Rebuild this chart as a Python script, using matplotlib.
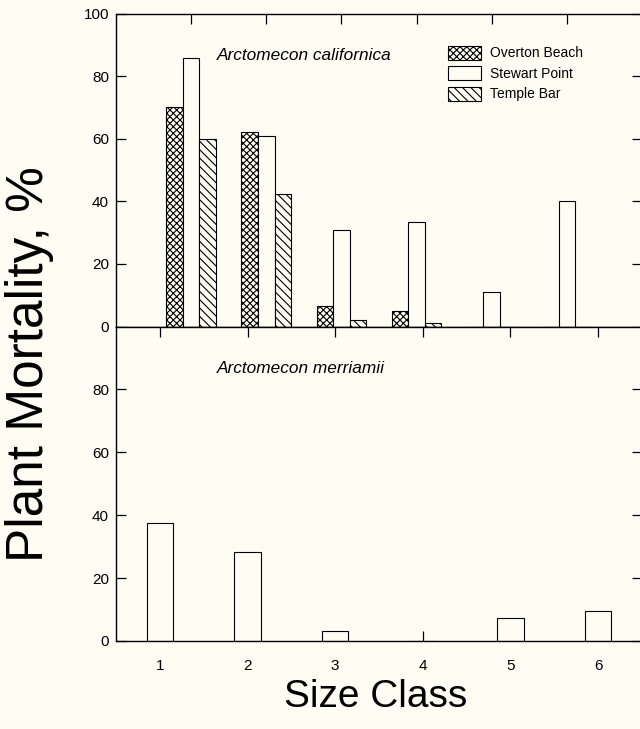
import numpy as np
import matplotlib.pyplot as plt

# mortality (%) by size class
size_class = [1, 2, 3, 4, 5, 6]
overton_beach = [70.0, 62.2, 6.4, 4.9, 0.0, 0.0]
stewart_point = [85.8, 60.9, 30.7, 33.4, 11.0, 40.1]
temple_bar = [60.0, 42.4, 2.1, 1.2, 0.0, 0.0]
merriamii = [37.6, 28.3, 3.1, 0.0, 7.2, 9.6]

bg = '#fdfdf4'
plt.rcParams['font.family'] = ['Liberation Sans', 'DejaVu Sans']
plt.rcParams['hatch.linewidth'] = 0.8

W, H = 640, 729
fig = plt.figure(figsize=(W / 100, H / 100), dpi=100, facecolor=bg)


def box(l, t, r, b):
    return [l / W, 1 - b / H, (r - l) / W, (b - t) / H]


ax1 = fig.add_axes(box(116, 13.5, 642, 326.5))
ax2 = fig.add_axes(box(116, 326.5, 642, 641))

x = np.array(size_class)
w = 0.22
ax1.bar(x - w, overton_beach, w, facecolor=bg, edgecolor='black', lw=0.8,
        hatch='xxxxx', label='Overton Beach')
ax1.bar(x, stewart_point, w, facecolor=bg, edgecolor='black', lw=0.8,
        label='Stewart Point')
ax1.bar(x + w, temple_bar, w, facecolor=bg, edgecolor='black', lw=0.8,
        hatch='\\\\\\\\', label='Temple Bar')

ax2.bar(x, merriamii, 0.3, facecolor=bg, edgecolor='black', lw=0.8)

for ax in (ax1, ax2):
    ax.set_facecolor(bg)
    ax.set_axisbelow(True)
    ax.set_ylim(0, 100)
    for s in ax.spines.values():
        s.set_linewidth(1.0)
    ax.tick_params(direction='in', length=7, width=0.9, labelsize=11,
                   left=True, right=True, labelleft=True, labelright=False)

ax1.set_xlim(0, 7)
ax1.set_xticks(size_class)
ax1.tick_params(axis='x', top=True, bottom=False, labelbottom=False)
ax1.set_yticks([0, 20, 40, 60, 80, 100])
ax1.tick_params(axis='y', pad=5)

ax2.set_xlim(0.5, 6.5)
ax2.set_xticks(size_class)
ax2.tick_params(axis='x', top=True, bottom=True, pad=13)
ax2.set_yticks([0, 20, 40, 60, 80])
ax2.tick_params(axis='y', pad=5)

ax1.text(0.192, 0.867, 'Arctomecon californica', style='italic', fontsize=12.4,
         transform=ax1.transAxes, va='center')
ax2.text(0.192, 0.867, 'Arctomecon merriamii', style='italic', fontsize=12.4,
         transform=ax2.transAxes, va='center')

ax1.legend(loc='upper left', bbox_to_anchor=(0.632, 0.897), frameon=False,
           fontsize=10, handlelength=2.37, handleheight=1.15, labelspacing=0.43,
           handletextpad=0.62, borderpad=0, borderaxespad=0)

fig.text(376 / W, 1 - 697 / H, 'Size Class', ha='center', va='center',
         fontsize=28)
fig.text(30 / W, 1 - 364 / H, 'Plant Mortality, %', rotation=90, ha='center',
         va='center', fontsize=37)

fig.savefig('out.png', dpi=100, facecolor=bg)
